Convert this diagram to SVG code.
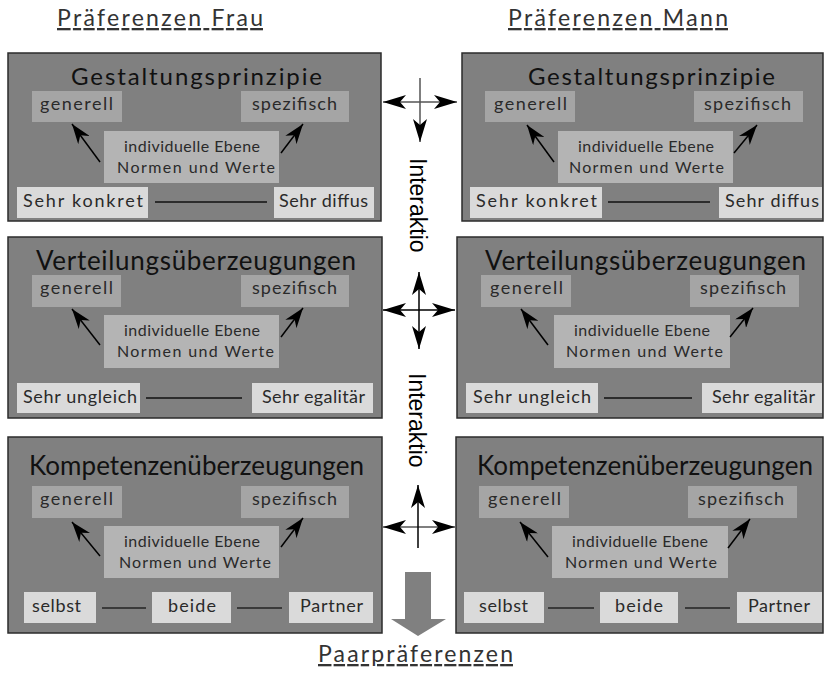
<svg xmlns="http://www.w3.org/2000/svg" width="824" height="675" viewBox="0 0 824 675">
<style>
text{font-family:Lato,"Liberation Sans",sans-serif}
.panel{fill:#808080;stroke:#2b2b2b;stroke-width:1.5}
.sub{fill:#a5a5a5}
.mid{fill:#b4b4b4}
.leaf{fill:#dadada}
.t1{font-size:24px;fill:#111}
.t2{font-size:26px;fill:#111}
.lbl{font-size:18px;fill:#2a2a2a}
.mt{font-size:16px;fill:#2a2a2a}
.hdr{font-size:23px;fill:#333;text-decoration:underline}
.ia{font-family:"Liberation Sans",Arial,sans-serif;font-size:23px;fill:#000}
.arr{stroke:#000;stroke-width:1.5;fill:none;marker-end:url(#ahs)}
.bl{stroke:#111;stroke-width:1.5}
.bl3{stroke:#3a3a3a;stroke-width:2}
.cross{stroke-width:1.5;fill:none}
</style>
<defs>
<marker id="ah" markerUnits="userSpaceOnUse" markerWidth="24" markerHeight="16" viewBox="0 0 24 16" refX="23" refY="8" orient="auto-start-reverse"><path d="M0,1 L23,8 L0,15 L6,8 Z" fill="#000"/></marker>
<marker id="ahs" markerUnits="userSpaceOnUse" markerWidth="20" markerHeight="14" viewBox="0 0 20 14" refX="20" refY="7" orient="auto"><path d="M0,0 L20,7 L0,14 L6,7 Z" fill="#000"/></marker>
</defs>

<g id="headers">
<text class="hdr" x="57" y="26" textLength="206" lengthAdjust="spacing">Präferenzen Frau</text>
<text class="hdr" x="508" y="26" textLength="220" lengthAdjust="spacing">Präferenzen Mann</text>
<text class="hdr" x="318" y="662" textLength="195" lengthAdjust="spacing">Paarpräferenzen</text>
</g>

<!-- Row 1 left -->
<g id="frau-gestaltung">
<rect class="panel" x="8" y="53" width="373" height="168"/>
<text class="t1" x="71" y="85" textLength="251" lengthAdjust="spacing">Gestaltungsprinzipie</text>
<g id="frau-gestaltung-generell"><rect class="sub" x="32" y="91" width="90" height="31"/><text class="lbl" x="40" y="110" textLength="73" lengthAdjust="spacing">generell</text></g>
<g id="frau-gestaltung-spezifisch"><rect class="sub" x="241" y="91" width="108" height="31"/><text class="lbl" x="252" y="110" textLength="85" lengthAdjust="spacing">spezifisch</text></g>
<g id="frau-gestaltung-individuell"><rect class="mid" x="104" y="131" width="175" height="52"/><text class="mt" x="124" y="152" textLength="136" lengthAdjust="spacing">individuelle Ebene</text><text class="mt" x="117" y="173" textLength="158" lengthAdjust="spacing">Normen und Werte</text></g>
<g id="frau-gestaltung-konkret"><rect class="leaf" x="17" y="187" width="131" height="31"/><text class="lbl" x="23" y="207" textLength="120" lengthAdjust="spacing">Sehr konkret</text></g>
<g id="frau-gestaltung-diffus"><rect class="leaf" x="274" y="187" width="100" height="31"/><text class="lbl" x="279" y="207" textLength="89" lengthAdjust="spacing">Sehr diffus</text></g>
</g>

<!-- Row 1 right -->
<g id="mann-gestaltung">
<rect class="panel" x="462" y="53" width="361" height="168"/>
<text class="t1" x="528" y="85" textLength="247" lengthAdjust="spacing">Gestaltungsprinzipie</text>
<g id="mann-gestaltung-generell"><rect class="sub" x="485" y="91" width="90" height="31"/><text class="lbl" x="494" y="110" textLength="73" lengthAdjust="spacing">generell</text></g>
<g id="mann-gestaltung-spezifisch"><rect class="sub" x="694" y="91" width="109" height="31"/><text class="lbl" x="704" y="110" textLength="87" lengthAdjust="spacing">spezifisch</text></g>
<g id="mann-gestaltung-individuell"><rect class="mid" x="558" y="131" width="175" height="52"/><text class="mt" x="578" y="152" textLength="136" lengthAdjust="spacing">individuelle Ebene</text><text class="mt" x="569" y="173" textLength="155" lengthAdjust="spacing">Normen und Werte</text></g>
<g id="mann-gestaltung-konkret"><rect class="leaf" x="470" y="187" width="132" height="31"/><text class="lbl" x="476" y="207" textLength="121" lengthAdjust="spacing">Sehr konkret</text></g>
<g id="mann-gestaltung-diffus"><rect class="leaf" x="719" y="187" width="103" height="31"/><text class="lbl" x="725" y="207" textLength="94" lengthAdjust="spacing">Sehr diffus</text></g>
</g>

<!-- Row 2 left -->
<g id="frau-verteilung">
<rect class="panel" x="8" y="237" width="374" height="181"/>
<text class="t2" x="36" y="270" textLength="320" lengthAdjust="spacing">Verteilungsüberzeugungen</text>
<g id="frau-verteilung-generell"><rect class="sub" x="32" y="275" width="89" height="32"/><text class="lbl" x="40" y="294" textLength="73" lengthAdjust="spacing">generell</text></g>
<g id="frau-verteilung-spezifisch"><rect class="sub" x="241" y="275" width="108" height="32"/><text class="lbl" x="252" y="294" textLength="85" lengthAdjust="spacing">spezifisch</text></g>
<g id="frau-verteilung-individuell"><rect class="mid" x="104" y="315" width="175" height="53"/><text class="mt" x="124" y="336" textLength="136" lengthAdjust="spacing">individuelle Ebene</text><text class="mt" x="117" y="357" textLength="157" lengthAdjust="spacing">Normen und Werte</text></g>
<g id="frau-verteilung-ungleich"><rect class="leaf" x="17" y="383" width="123" height="30"/><text class="lbl" x="23" y="403" textLength="114" lengthAdjust="spacing">Sehr ungleich</text></g>
<g id="frau-verteilung-egalitaer"><rect class="leaf" x="252" y="383" width="121" height="30"/><text class="lbl" x="262" y="403" textLength="103" lengthAdjust="spacing">Sehr egalitär</text></g>
</g>

<!-- Row 2 right -->
<g id="mann-verteilung">
<rect class="panel" x="457" y="237" width="366" height="181"/>
<text class="t2" x="485" y="270" textLength="321" lengthAdjust="spacing">Verteilungsüberzeugungen</text>
<g id="mann-verteilung-generell"><rect class="sub" x="481" y="275" width="90" height="32"/><text class="lbl" x="490" y="294" textLength="73" lengthAdjust="spacing">generell</text></g>
<g id="mann-verteilung-spezifisch"><rect class="sub" x="690" y="275" width="109" height="32"/><text class="lbl" x="700" y="294" textLength="86" lengthAdjust="spacing">spezifisch</text></g>
<g id="mann-verteilung-individuell"><rect class="mid" x="554" y="315" width="176" height="53"/><text class="mt" x="574" y="336" textLength="136" lengthAdjust="spacing">individuelle Ebene</text><text class="mt" x="566" y="357" textLength="157" lengthAdjust="spacing">Normen und Werte</text></g>
<g id="mann-verteilung-ungleich"><rect class="leaf" x="466" y="383" width="132" height="30"/><text class="lbl" x="473" y="403" textLength="118" lengthAdjust="spacing">Sehr ungleich</text></g>
<g id="mann-verteilung-egalitaer"><rect class="leaf" x="702" y="383" width="120" height="30"/><text class="lbl" x="712" y="403" textLength="103" lengthAdjust="spacing">Sehr egalitär</text></g>
</g>

<!-- Row 3 left -->
<g id="frau-kompetenz">
<rect class="panel" x="8" y="437" width="374" height="196"/>
<text class="t2" x="29" y="475" textLength="335" lengthAdjust="spacing">Kompetenzenüberzeugungen</text>
<g id="frau-kompetenz-generell"><rect class="sub" x="32" y="486" width="90" height="32"/><text class="lbl" x="40" y="505" textLength="73" lengthAdjust="spacing">generell</text></g>
<g id="frau-kompetenz-spezifisch"><rect class="sub" x="241" y="486" width="108" height="32"/><text class="lbl" x="252" y="505" textLength="85" lengthAdjust="spacing">spezifisch</text></g>
<g id="frau-kompetenz-individuell"><rect class="mid" x="104" y="526" width="175" height="52"/><text class="mt" x="124" y="547" textLength="136" lengthAdjust="spacing">individuelle Ebene</text><text class="mt" x="119" y="568" textLength="152" lengthAdjust="spacing">Normen und Werte</text></g>
<g id="frau-kompetenz-selbst"><rect class="leaf" x="24" y="592" width="72" height="31"/><text class="lbl" x="32" y="612" textLength="49" lengthAdjust="spacing">selbst</text></g>
<g id="frau-kompetenz-beide"><rect class="leaf" x="152" y="592" width="79" height="31"/><text class="lbl" x="168" y="612" textLength="48" lengthAdjust="spacing">beide</text></g>
<g id="frau-kompetenz-partner"><rect class="leaf" x="289" y="592" width="84" height="31"/><text class="lbl" x="300" y="612" textLength="63" lengthAdjust="spacing">Partner</text></g>
</g>

<!-- Row 3 right -->
<g id="mann-kompetenz">
<rect class="panel" x="456" y="437" width="367" height="196"/>
<text class="t2" x="477" y="475" textLength="336" lengthAdjust="spacing">Kompetenzenüberzeugungen</text>
<g id="mann-kompetenz-generell"><rect class="sub" x="479" y="486" width="90" height="32"/><text class="lbl" x="488" y="505" textLength="73" lengthAdjust="spacing">generell</text></g>
<g id="mann-kompetenz-spezifisch"><rect class="sub" x="688" y="486" width="109" height="32"/><text class="lbl" x="698" y="505" textLength="86" lengthAdjust="spacing">spezifisch</text></g>
<g id="mann-kompetenz-individuell"><rect class="mid" x="552" y="526" width="176" height="52"/><text class="mt" x="572" y="547" textLength="136" lengthAdjust="spacing">individuelle Ebene</text><text class="mt" x="565" y="568" textLength="152" lengthAdjust="spacing">Normen und Werte</text></g>
<g id="mann-kompetenz-selbst"><rect class="leaf" x="464" y="592" width="80" height="31"/><text class="lbl" x="479" y="612" textLength="49" lengthAdjust="spacing">selbst</text></g>
<g id="mann-kompetenz-beide"><rect class="leaf" x="600" y="592" width="78" height="31"/><text class="lbl" x="615" y="612" textLength="48" lengthAdjust="spacing">beide</text></g>
<g id="mann-kompetenz-partner"><rect class="leaf" x="737" y="592" width="85" height="31"/><text class="lbl" x="748" y="612" textLength="62" lengthAdjust="spacing">Partner</text></g>
</g>

<g id="connectors">
<!-- inner arrows -->
<line class="arr" x1="100" y1="162" x2="72" y2="124"/>
<line class="arr" x1="281" y1="153" x2="303" y2="124"/>
<line class="arr" x1="554" y1="162" x2="527" y2="125"/>
<line class="arr" x1="734" y1="153" x2="757" y2="125"/>
<line class="arr" x1="100" y1="345" x2="72" y2="309"/>
<line class="arr" x1="281" y1="337" x2="303" y2="308"/>
<line class="arr" x1="548" y1="345" x2="521" y2="309"/>
<line class="arr" x1="730" y1="337" x2="753" y2="308"/>
<line class="arr" x1="100" y1="556" x2="72" y2="522"/>
<line class="arr" x1="281" y1="547" x2="303" y2="518"/>
<line class="arr" x1="548" y1="557" x2="520" y2="522"/>
<line class="arr" x1="728" y1="548" x2="750" y2="519"/>
<!-- scale lines -->
<line class="bl" x1="155" y1="202" x2="267" y2="202"/>
<line class="bl" x1="608" y1="202" x2="710" y2="202"/>
<line class="bl" x1="146" y1="398" x2="242" y2="398"/>
<line class="bl" x1="604" y1="398" x2="692" y2="398"/>
<line class="bl3" x1="102" y1="608" x2="146" y2="608"/>
<line class="bl3" x1="237" y1="608" x2="282" y2="608"/>
<line class="bl3" x1="548" y1="608" x2="594" y2="608"/>
<line class="bl3" x1="685" y1="608" x2="730" y2="608"/>
<!-- interaction crosses -->
<line class="cross" stroke="#555" x1="383" y1="102" x2="457" y2="102" marker-start="url(#ah)" marker-end="url(#ah)"/>
<line class="cross" stroke="#555" x1="420" y1="78" x2="420" y2="142" marker-end="url(#ah)"/>
<line class="cross" stroke="#000" x1="383" y1="310" x2="455" y2="310" marker-start="url(#ah)" marker-end="url(#ah)"/>
<line class="cross" stroke="#000" x1="419" y1="272" x2="419" y2="349" marker-start="url(#ah)" marker-end="url(#ah)"/>
<line class="cross" stroke="#555" x1="383" y1="527" x2="455" y2="527" marker-start="url(#ah)" marker-end="url(#ah)"/>
<line class="cross" stroke="#000" x1="418" y1="548" x2="418" y2="485" marker-end="url(#ah)"/>
<!-- big result arrow -->
<polygon points="405,572 431,572 431,619 446,619 418,636 391,619 405,619" fill="#808080"/>
</g>

<g id="labels">
<text class="ia" transform="translate(410,158) rotate(90)">Interaktio</text>
<text class="ia" transform="translate(409,373) rotate(90)">Interaktio</text>
</g>
</svg>
